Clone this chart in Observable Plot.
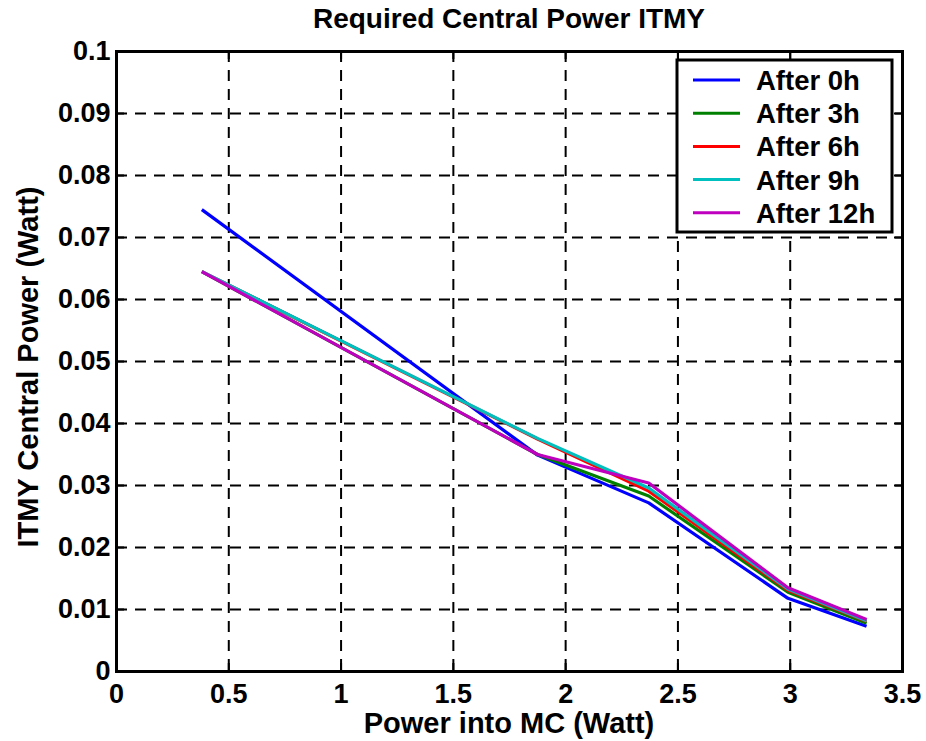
<!DOCTYPE html>
<html>
<head>
<meta charset="utf-8">
<script src="https://cdn.jsdelivr.net/npm/d3@7"></script>
<script src="https://cdn.jsdelivr.net/npm/@observablehq/plot@0.6"></script>
<style>
  html, body { margin: 0; padding: 0; background: #fff; }
  #chart { position: relative; width: 926px; height: 741px; }
</style>
</head>
<body>
<div id="chart"></div>
<script>
// ---- data ----
const powerMC = [0.38, 1.875, 2.37, 2.99, 3.34];
const after0h  = [0.0745, 0.0349, 0.0272, 0.0118, 0.0073];
const after3h  = [0.0645, 0.0350, 0.0283, 0.0128, 0.0078];
const after6h  = [0.0645, 0.0375, 0.0291, 0.0131, 0.0081];
const after9h  = [0.0645, 0.0376, 0.0296, 0.0133, 0.0082];
const after12h = [0.0645, 0.0350, 0.0304, 0.0135, 0.0084];
const seriesNames  = ["After 0h", "After 3h", "After 6h", "After 9h", "After 12h"];
const seriesColors = ["#0000ff", "#008000", "#ff0000", "#00bfbf", "#bf00bf"];
const xTicks = [0, 0.5, 1, 1.5, 2, 2.5, 3, 3.5];
const xTickLabels = ["0", "0.5", "1", "1.5", "2", "2.5", "3", "3.5"];
const yTicks = [0, 0.01, 0.02, 0.03, 0.04, 0.05, 0.06, 0.07, 0.08, 0.09, 0.1];
const yTickLabels = ["0", "0.01", "0.02", "0.03", "0.04", "0.05", "0.06", "0.07", "0.08", "0.09", "0.1"];
const titleText = "Required Central Power ITMY";
const xTitle = "Power into MC (Watt)";
const yTitle = "ITMY Central Power (Watt)";

const seriesValues = [after0h, after3h, after6h, after9h, after12h];
const rows = [];
seriesValues.forEach((vals, i) => {
  vals.forEach((v, j) => rows.push({series: seriesNames[i], x: powerMC[j], y: v}));
});

const W = 926, H = 741;
const mL = 116, mR = 24, mT = 51, mB = 70;
const innerW = W - mL - mR, innerH = H - mT - mB;
const FONT = "'Liberation Sans', Arial, Helvetica, sans-serif";
const tickLen = 8;

const plot = Plot.plot({
  width: W, height: H,
  marginLeft: mL, marginRight: mR, marginTop: mT, marginBottom: mB,
  style: {fontFamily: FONT, fontWeight: "bold", fontSize: "27px", color: "#000", background: "#fff"},
  x: {domain: [0, 3.5]},
  y: {domain: [0, 0.1]},
  color: {domain: seriesNames, range: seriesColors},
  marks: [
    // dashed grid
    Plot.ruleX(xTicks, {x: d => d, stroke: "#000", strokeWidth: 2, strokeDasharray: "11,8"}),
    Plot.ruleY(yTicks, {y: d => d, stroke: "#000", strokeWidth: 2, strokeDasharray: "11,8"}),
    // inward ticks on all sides
    Plot.tickX(xTicks, {x: d => d, stroke: "#000", strokeWidth: 2, insetTop: innerH - tickLen}),
    Plot.tickX(xTicks, {x: d => d, stroke: "#000", strokeWidth: 2, insetBottom: innerH - tickLen}),
    Plot.tickY(yTicks, {y: d => d, stroke: "#000", strokeWidth: 2, insetRight: innerW - tickLen}),
    Plot.tickY(yTicks, {y: d => d, stroke: "#000", strokeWidth: 2, insetLeft: innerW - tickLen}),
    // data lines
    Plot.line(rows, {x: "x", y: "y", z: "series", stroke: "series", strokeWidth: 3.2,
                     strokeLinejoin: "round", strokeLinecap: "butt"}),
    Plot.frame({stroke: "#000", strokeWidth: 3}),
    Plot.axisX({ticks: xTicks, tickSize: 0, tickPadding: 12, tickFormat: (d, i) => xTickLabels[i],
                label: null, fontSize: 27, fontWeight: "bold"}),
    Plot.axisY({ticks: yTicks, tickSize: 0, tickPadding: 6, tickFormat: (d, i) => yTickLabels[i],
                label: null, fontSize: 27, fontWeight: "bold"})
  ]
});

document.getElementById("chart").appendChild(plot);

// titles and legend as SVG text
const svg = d3.select(plot);
svg.append("text")
  .attr("x", mL + innerW / 2).attr("y", 28)
  .attr("text-anchor", "middle")
  .attr("font-family", FONT).attr("font-weight", "bold").attr("font-size", 28)
  .attr("fill", "#000").text(titleText);
svg.append("text")
  .attr("x", mL + innerW / 2).attr("y", 733)
  .attr("text-anchor", "middle")
  .attr("font-family", FONT).attr("font-weight", "bold").attr("font-size", 29)
  .attr("fill", "#000").text(xTitle);
svg.append("text")
  .attr("transform", `translate(38, ${mT + innerH / 2 + 6}) rotate(-90)`)
  .attr("text-anchor", "middle")
  .attr("font-family", FONT).attr("font-weight", "bold").attr("font-size", 29)
  .attr("fill", "#000").text(yTitle);

// legend
const lg = svg.append("g");
lg.append("rect").attr("x", 677).attr("y", 60).attr("width", 215).attr("height", 172)
  .attr("fill", "#fff").attr("stroke", "#000").attr("stroke-width", 3);
seriesNames.forEach((name, i) => {
  const yy = 80 + i * 33.2;
  lg.append("line").attr("x1", 693).attr("x2", 740).attr("y1", yy).attr("y2", yy)
    .attr("stroke", seriesColors[i]).attr("stroke-width", 3);
  lg.append("text").attr("x", 756).attr("y", yy + 10)
    .attr("text-anchor", "start")
    .attr("font-family", FONT).attr("font-weight", "bold").attr("font-size", 27.5)
    .attr("fill", "#000").text(name);
});
</script>
</body>
</html>
